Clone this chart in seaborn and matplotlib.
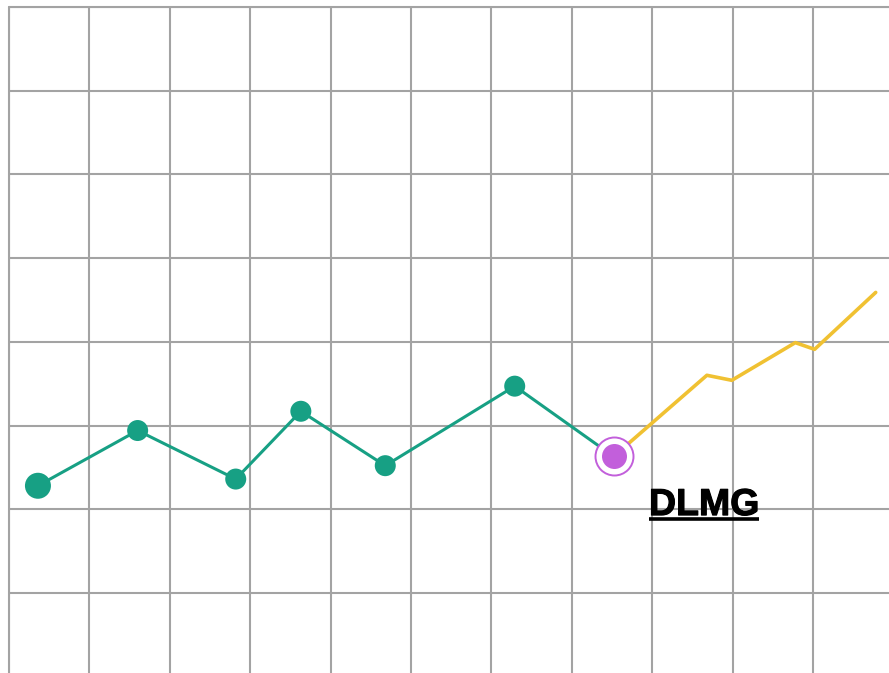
import matplotlib
matplotlib.use('Agg')
import matplotlib.pyplot as plt
import matplotlib.patheffects as pe
import seaborn as sns
import pandas as pd
import numpy as np

sns.set_style('white')
plt.rcParams['font.family'] = ['Liberation Sans', 'DejaVu Sans']

# history (green), current point (purple), forecast (yellow) in grid units
hist_x = [0.36, 1.60, 2.82, 3.63, 4.68, 6.29, 7.52]
hist_y = [2.28, 2.94, 2.36, 3.17, 2.52, 3.47, 2.63]
hist_size = [13, 10.5, 10.5, 10.5, 10.5, 10.5]
fc_x = [7.52, 8.68, 8.99, 9.78, 10.02, 10.78]
fc_y = [2.63, 3.60, 3.54, 3.99, 3.91, 4.59]
label = 'DLMG'

green = '#17a084'
yellow = '#f0c132'
purple = '#c25fdb'
gridc = '#a3a3a3'

W, H = 889, 673
fig = plt.figure(figsize=(W / 100, H / 100), dpi=100)
ax = fig.add_axes([9 / W, 0, 1 - 9 / W, 1 - 7 / H])

px_x = 80.4
px_y = 83.7
ax.set_xlim(0, (W - 9) / px_x)
ax.set_ylim(8 - (H - 7) / px_y, 8)
ax.set_xticks(np.arange(0, 11))
ax.set_yticks(np.arange(1, 9))
ax.grid(True, color=gridc, linewidth=1.5)
ax.tick_params(length=0, labelleft=False, labelbottom=False)
for s in ax.spines.values():
    s.set_visible(False)
ax.axvline(0, color=gridc, linewidth=1.5, clip_on=False)
ax.axhline(8, color=gridc, linewidth=1.5, clip_on=False)

hist = pd.DataFrame({'x': hist_x, 'y': hist_y})
fc = pd.DataFrame({'x': fc_x, 'y': fc_y})

sns.lineplot(data=fc, x='x', y='y', color=yellow, linewidth=2.6, sort=False, ax=ax, zorder=3)
sns.lineplot(data=hist, x='x', y='y', color=green, linewidth=2.2, sort=False, ax=ax, zorder=3)

pts = hist.iloc[:-1].copy()
pts['s'] = [(2 * r * 0.72) ** 2 for r in hist_size]
ax.scatter(pts['x'], pts['y'], s=pts['s'], color=green, zorder=4, linewidths=0)

# current point with ring
cx, cy = hist_x[-1], hist_y[-1]
ax.scatter([cx], [cy], s=(2 * 19 * 0.72) ** 2, facecolor='white', edgecolor=purple,
           linewidths=1.4, zorder=5)
ax.scatter([cx], [cy], s=(2 * 12.5 * 0.72) ** 2, color=purple, linewidths=0, zorder=6)

ax.set_xlabel('')
ax.set_ylabel('')

ty = 1.93
t = ax.text(7.96, ty, label, fontsize=27, fontweight='bold', color='black',
            ha='left', va='baseline', zorder=6,
            path_effects=[pe.withStroke(linewidth=0.8, foreground='black')])
fig.canvas.draw()
bb = t.get_window_extent()
inv = ax.transData.inverted()
x0 = inv.transform([bb.x0, bb.y0])[0]
x1 = inv.transform([bb.x1, bb.y0])[0]
uy = ty - 4 / px_y
ax.plot([x0, x1], [uy, uy], color='black', linewidth=2.6,
        solid_capstyle='butt', zorder=6)

fig.savefig('out.png', dpi=100)
